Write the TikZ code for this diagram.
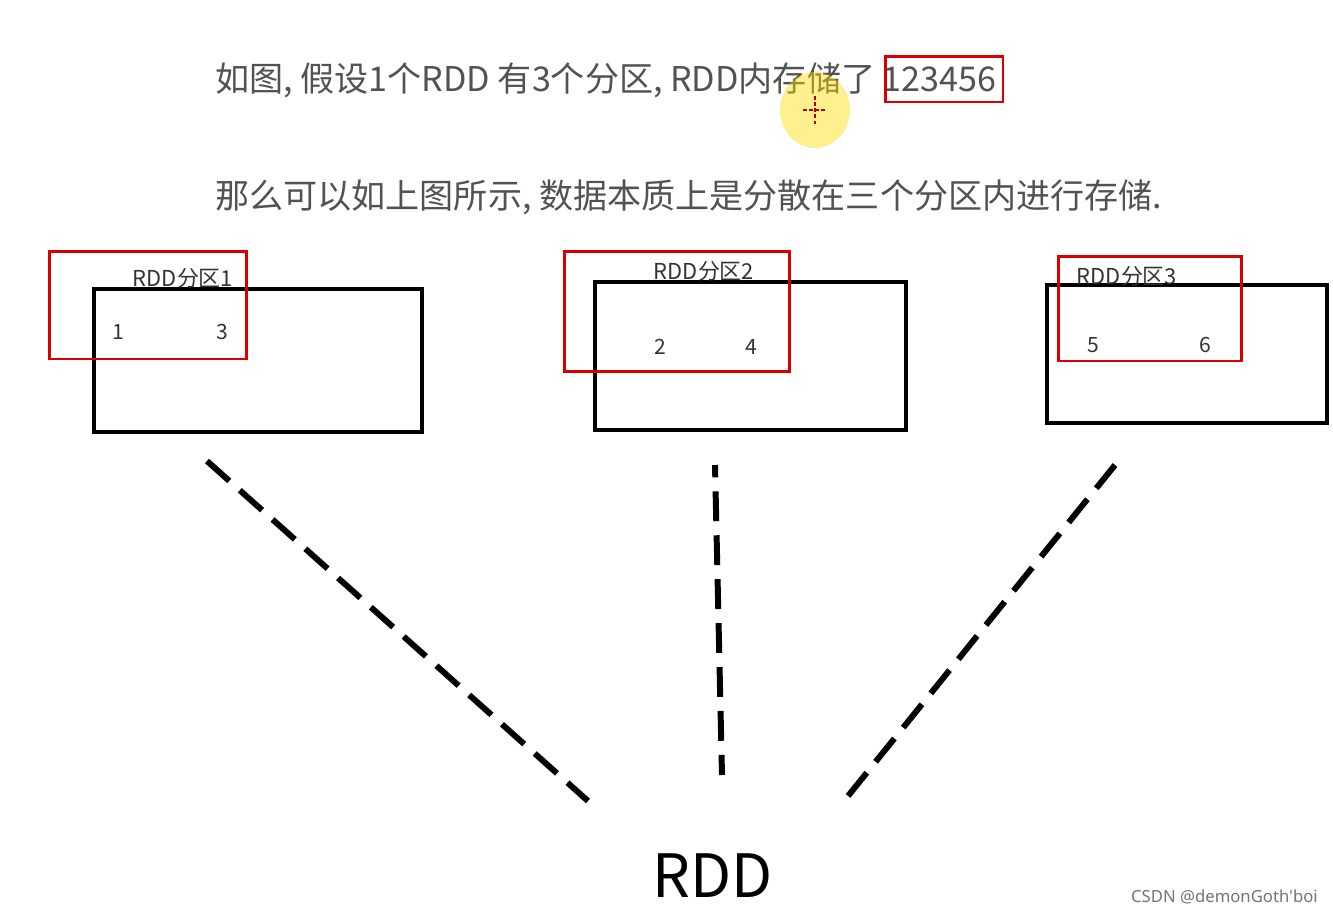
\documentclass[tikz,border=0pt]{standalone}
\usepackage{fontspec}
\setmainfont{Noto Sans CJK SC}
\newfontfamily\wmfont{Noto Sans}
\usetikzlibrary{positioning}

\begin{document}
\begin{tikzpicture}[
		x=0.02cm, y=-0.02cm,
		line1/.style={anchor=west, inner sep=0pt, text=black!68, font=\fontsize{19.4}{21}\selectfont},
		part/.style={draw, line width=2.8pt, inner sep=0pt},
		hl/.style={draw=red!85!black, line width=1.7pt, inner sep=0pt},
		lab/.style={inner sep=0pt, text=black!80, font=\fontsize{12.5}{14}\selectfont},
		num/.style={inner sep=0pt, text=black!80, font=\fontsize{12}{14}\selectfont},
		link/.style={line width=3.4pt, dash pattern=on 17pt off 8pt}
		]
		
		\useasboundingbox (0,0) rectangle (1333,913);
		
		% Top text
		\node[line1] (l1) at (215,80) {如图, 假设1个RDD 有3个分区, RDD内存储了 123456};
		\node[line1] (l2) at (215,197) {那么可以如上图所示, 数据本质上是分散在三个分区内进行存储.};
		\node[hl, minimum width=2.36cm, minimum height=0.92cm] (h0) at (944,79) {};
		
		% Cursor
		\fill[yellow!80!orange, opacity=0.45] (815,110) ellipse (0.7cm and 0.76cm);
		\draw[red!70!black, line width=1pt, dash pattern=on 2pt off 1.5pt]
			(803,110) -- (827,110) (815,96) -- (815,124);
		
		% Partitions
		\node[part, minimum width=6.56cm, minimum height=2.86cm] (p1) at (258,360.5) {};
		\node[part, minimum width=6.22cm, minimum height=2.96cm] (p2) at (750.5,356) {};
		\node[part, minimum width=5.60cm, minimum height=2.76cm] (p3) at (1187,354) {};
		
		% Highlights
		\node[hl, minimum width=3.96cm, minimum height=2.16cm] (h1) at (148,305) {};
		\node[hl, minimum width=4.52cm, minimum height=2.42cm] (h2) at (677,311.5) {};
		\node[hl, minimum width=3.68cm, minimum height=2.10cm] (h3) at (1150,308.5) {};
		
		% Labels
		\node[lab] (t1) at (183,278) {RDD分区1};
		\node[lab] (t2) at (704,271) {RDD分区2};
		\node[lab] (t3) at (1127,276) {RDD分区3};
		
		% Data
		\node[num] (d1) at (118,332) {1};
		\node[num] (d3) at (222,332) {3};
		\node[num] (d2) at (660,347) {2};
		\node[num] (d4) at (751,347) {4};
		\node[num] (d5) at (1093,345) {5};
		\node[num] (d6) at (1205,345) {6};
		
		% RDD
		\node[inner sep=0pt, font=\fontsize{34}{36}\selectfont] (rdd) at (713,876) {RDD};
		
		% Dashed links
		\coordinate (a1) at (207,461);
		\coordinate (b1) at (588,801);
		\coordinate (a2) at (715,465);
		\coordinate (b2) at (722,775);
		\coordinate (a3) at (1115,465);
		\coordinate (b3) at (848,796);
		\draw[link] (a1) -- (b1);
		\draw[link, dash phase=10pt] (a2) -- (b2);
		\draw[link] (a3) -- (b3);
		
		% Watermark
		\node[anchor=east, inner sep=0pt, text=black!55, font=\wmfont\fontsize{9.5}{11}\selectfont] (wm) at (1318,897) {CSDN @demonGoth'boi};
		
	\end{tikzpicture}
\end{document}
